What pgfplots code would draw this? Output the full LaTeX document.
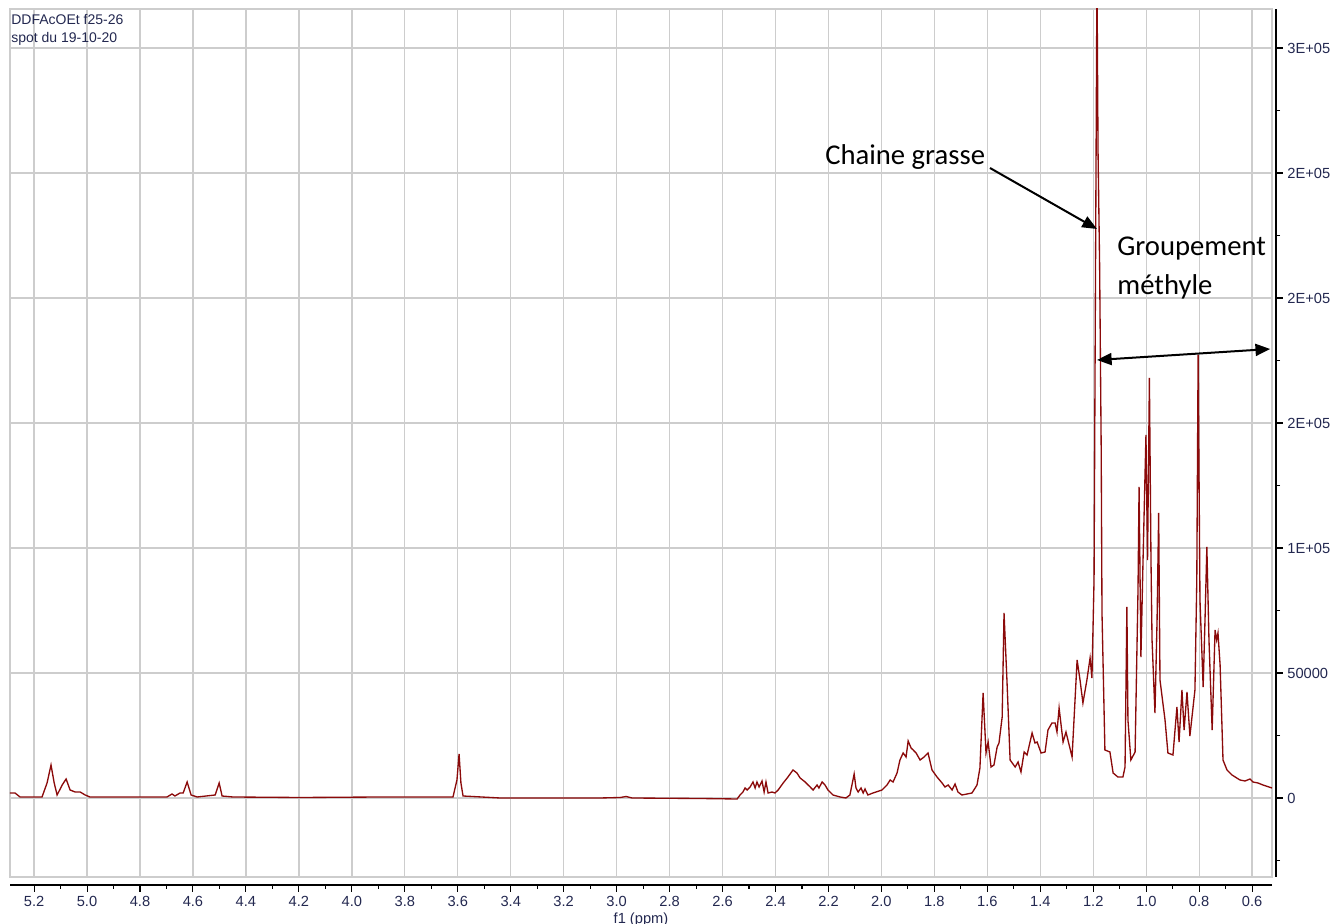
\documentclass[border=0pt]{standalone}
\usepackage{fontspec}
\setmainfont{Liberation Sans}
\newfontfamily\calib{Carlito}
\usepackage{pgfplots}
\pgfplotsset{compat=1.18}
\usetikzlibrary{arrows.meta}
\definecolor{spec}{RGB}{139,10,10}
\definecolor{gridc}{RGB}{205,205,205}
\definecolor{lab}{RGB}{35,40,80}

\begin{document}
\begin{tikzpicture}
\begin{axis}[
  width=946.5pt, height=651pt, scale only axis,
  x dir=reverse,
  xmin=0.525, xmax=5.291,
  ymin=-31600, ymax=315600,
  axis x line=bottom, axis y line=right,
  axis x line shift=6pt, axis y line shift=3pt,
  axis line style={black, line width=0.8pt, -},
  every tick/.style={black, line width=0.8pt},
  tick align=outside,
  major tick length=5pt, minor tick length=3pt,
  xtick={0.6,0.8,1,1.2,1.4,1.6,1.8,2,2.2,2.4,2.6,2.8,3,3.2,3.4,3.6,3.8,4,4.2,4.4,4.6,4.8,5,5.2},
  minor xtick={0.7,0.9,1.1,1.3,1.5,1.7,1.9,2.1,2.3,2.5,2.7,2.9,3.1,3.3,3.5,3.7,3.9,4.1,4.3,4.5,4.7,4.9,5.1},
  ytick={0,50000,100000,150000,200000,250000,300000},
  yticklabels={0,50000,1E+05,2E+05,2E+05,2E+05,3E+05},
  minor ytick={-25000,25000,75000,125000,175000,225000,275000},
  scaled y ticks=false,
  xticklabel style={/pgf/number format/.cd, fixed, fixed zerofill, precision=1},
  /pgf/number format/assume math mode=true,
  ticklabel style={font=\fontsize{11}{13}\selectfont, text=lab},
  xlabel={f1 (ppm)},
  xlabel style={font=\fontsize{11}{13}\selectfont, text=lab, yshift=2.5pt},
  grid=major,
  major grid style={gridc, line width=1pt},
  clip mode=individual,
]
\draw[gridc, line width=1pt] (axis cs:5.291,-31600) rectangle (axis cs:0.525,315600);
\coordinate (sw) at (axis cs:5.291,-31600);
\coordinate (ne) at (axis cs:0.525,315600);

\addplot[spec, line width=1pt] coordinates {
(5.291,2000) (5.272,2000) (5.253,400) (5.226,400) (5.204,400) (5.170,400)
(5.151,6000) (5.136,13200) (5.124,6000) (5.113,1200) (5.094,5200) (5.079,7600)
(5.064,3200) (5.045,2400) (5.026,2400) (5.007,1200) (4.989,400) (4.837,400)
(4.698,400) (4.679,1600) (4.668,800) (4.649,2000) (4.637,2000) (4.622,6400)
(4.607,1200) (4.584,400) (4.516,1200) (4.501,6000) (4.490,800) (4.449,400)
(4.196,200) (3.893,400) (3.618,400) (3.603,7200) (3.595,17600) (3.588,6000)
(3.580,800) (3.440,0) (3.063,0) (2.987,200) (2.964,600) (2.942,0)
(2.685,-200) (2.545,-400) (2.534,1200) (2.523,2400) (2.515,4000) (2.507,3200)
(2.496,4400) (2.485,6400) (2.477,4000) (2.470,6400) (2.462,4400) (2.451,6800)
(2.443,2400) (2.436,6400) (2.428,2000) (2.413,2400) (2.402,2000) (2.390,3200)
(2.371,6000) (2.353,8400) (2.334,11200) (2.319,10000) (2.307,8000) (2.288,6400)
(2.269,4400) (2.258,3200) (2.243,5200) (2.236,4000) (2.224,6400) (2.213,5200)
(2.202,3200) (2.183,1200) (2.156,400) (2.134,0) (2.119,1200) (2.103,9600)
(2.096,4000) (2.088,2400) (2.077,4000) (2.069,2000) (2.062,3600) (2.051,1200)
(2.032,2000) (1.998,3200) (1.979,5200) (1.967,7200) (1.956,6400) (1.941,10000)
(1.930,15200) (1.918,18000) (1.907,16400) (1.899,22800) (1.888,20000) (1.880,19200)
(1.869,18000) (1.854,15200) (1.839,16400) (1.824,18000) (1.809,11200) (1.790,8400)
(1.771,6000) (1.760,4400) (1.748,5200) (1.733,3200) (1.722,5600) (1.711,2400)
(1.696,1200) (1.677,1600) (1.658,2000) (1.639,5200) (1.628,12000) (1.616,42000)
(1.605,18000) (1.597,22400) (1.586,12400) (1.575,13200) (1.563,20400) (1.556,22000)
(1.544,32400) (1.537,74000) (1.526,47200) (1.514,15200) (1.495,12400) (1.484,14400)
(1.473,10400) (1.461,18400) (1.450,17200) (1.431,26000) (1.420,22000) (1.412,22400)
(1.397,18000) (1.382,18400) (1.371,27200) (1.356,30000) (1.344,30000) (1.337,26400)
(1.329,36000) (1.314,22400) (1.303,26400) (1.280,16400) (1.261,55200) (1.250,47200)
(1.239,38000) (1.224,47200) (1.212,56000) (1.205,48000) (1.197,87200) (1.192,199200)
(1.186,330000) (1.182,259200) (1.176,213200) (1.170,139200) (1.167,74000) (1.156,19200)
(1.137,18400) (1.125,10000) (1.107,8400) (1.088,8400) (1.080,12400) (1.073,76400)
(1.069,31200) (1.058,15200) (1.042,18400) (1.031,83200) (1.027,124400) (1.020,56400)
(1.012,95200) (1.001,145200) (0.995,95200) (0.988,168000) (0.982,95200) (0.978,63200)
(0.967,34000) (0.959,71200) (0.953,114000) (0.948,47200) (0.929,31200) (0.918,18000)
(0.899,17200) (0.884,36400) (0.876,22400) (0.865,43200) (0.857,27200) (0.846,42400)
(0.835,24800) (0.816,43200) (0.809,87200) (0.804,177200) (0.797,79200) (0.785,44400)
(0.778,71200) (0.771,100400) (0.763,63200) (0.751,27200) (0.740,67200) (0.734,63200)
(0.729,66000) (0.721,53200) (0.710,15200) (0.695,11200) (0.676,9200) (0.646,7200)
(0.627,6800) (0.608,7600) (0.597,6400) (0.578,6000) (0.559,5200) (0.525,4000)
};

\node[anchor=north west, inner sep=0pt, align=left, font=\fontsize{10.5}{13.5}\selectfont, text=lab]
  at ([shift={(0.8pt,-3.5pt)}]axis cs:5.291,315600) {DDFAcOEt f25-26\\spot du 19-10-20};

\node[anchor=base west, inner sep=0pt, font=\calib\fontsize{21.5}{26}\selectfont] at (axis cs:2.213,253200) {Chaine grasse};
\node[anchor=base west, inner sep=0pt, font=\calib\fontsize{21.5}{26}\selectfont] at (axis cs:1.110,216800) {Groupement};
\node[anchor=base west, inner sep=0pt, font=\calib\fontsize{21.5}{26}\selectfont] at (axis cs:1.110,201200) {méthyle};
\draw[line width=1.5pt, -{Triangle[length=11pt,width=9pt]}] (axis cs:1.590,252000) -- (axis cs:1.186,227600);
\draw[line width=1.5pt, {Triangle[length=11pt,width=9pt]}-{Triangle[length=11pt,width=9pt]}] (axis cs:1.186,175200) -- (axis cs:0.532,179600);
\end{axis}
\pgfresetboundingbox
\path[use as bounding box] ([shift={(-7.5pt,-35.25pt)}]sw) rectangle ([shift={(47.25pt,6.75pt)}]ne);
\end{tikzpicture}
\end{document}
